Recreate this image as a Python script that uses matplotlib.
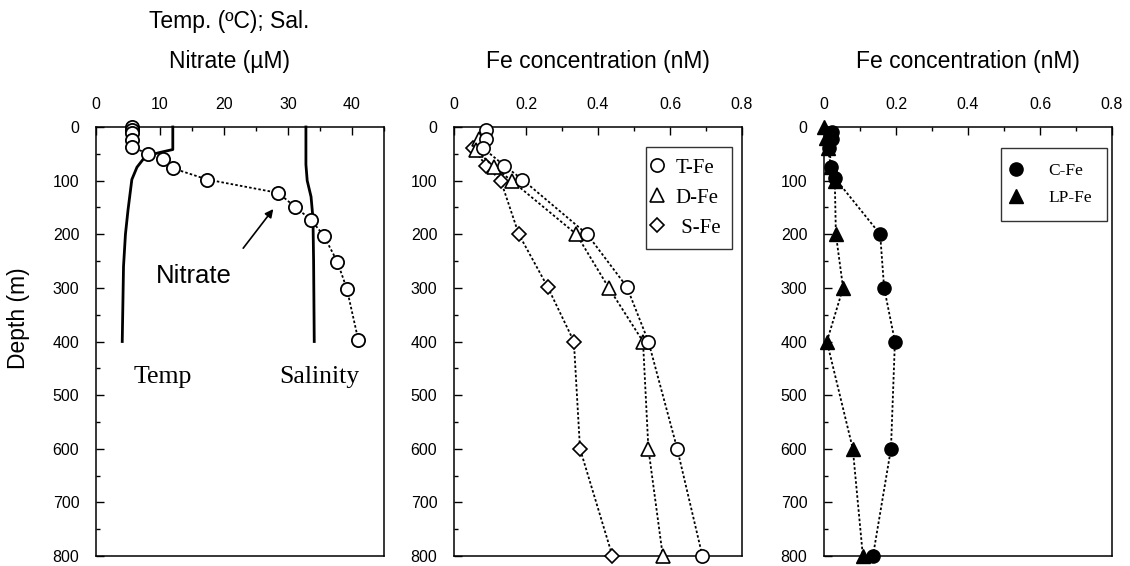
import matplotlib
matplotlib.use('Agg')
import matplotlib.pyplot as plt
from matplotlib.ticker import MultipleLocator

SANS = 'Liberation Sans'
SERIF = 'Liberation Serif'

# panel 1: nitrate (uM) and temp / salinity profiles
nitrate_depth = [0, 5, 12, 24, 37, 50, 60, 77, 98, 123, 149, 173, 203, 251, 302, 398]
nitrate = [5.7, 5.7, 5.7, 5.7, 5.6, 8.1, 10.4, 12.0, 17.4, 28.5, 31.1, 33.6, 35.6, 37.7, 39.2, 41.0]
temp_depth = [0, 42, 48, 55, 75, 98, 155, 200, 260, 400]
temp = [12.0, 12.0, 9.8, 7.7, 6.4, 5.6, 5.0, 4.6, 4.3, 4.1]
sal_depth = [0, 70, 100, 130, 170, 250, 400]
sal = [32.8, 32.8, 33.0, 33.6, 33.9, 34.0, 34.1]

# panel 2: iron fractions (nM)
tfe_depth = [5, 22, 39, 72, 98, 200, 298, 400, 600, 800]
tfe = [0.09, 0.09, 0.08, 0.14, 0.19, 0.37, 0.48, 0.54, 0.62, 0.69]
dfe_depth = [22, 42, 74, 100, 200, 300, 400, 600, 800]
dfe = [0.07, 0.06, 0.11, 0.16, 0.34, 0.43, 0.525, 0.54, 0.58]
sfe_depth = [39, 73, 100, 200, 298, 400, 600, 800]
sfe = [0.053, 0.09, 0.13, 0.18, 0.26, 0.333, 0.35, 0.44]

# panel 3
cfe_depth = [10, 22, 40, 75, 95, 200, 300, 400, 600, 800]
cfe = [0.022, 0.022, 0.015, 0.02, 0.03, 0.156, 0.167, 0.197, 0.186, 0.136]
lpfe_depth = [0, 20, 40, 75, 100, 200, 300, 400, 600, 800]
lpfe = [0.0, 0.005, 0.01, 0.02, 0.03, 0.033, 0.053, 0.008, 0.08, 0.108]

DOT = (0, (1.4, 1.2))

fig = plt.figure(figsize=(11.3, 5.66), dpi=100)
w, h, b = 288 / 1130, 429 / 566, 1 - 556 / 566
ax1 = fig.add_axes([96 / 1130, b, w, h])
ax2 = fig.add_axes([454 / 1130, b, w, h])
ax3 = fig.add_axes([824 / 1130, b, w, h])


def style(ax, xmax, xmaj, xmin):
    ax.set_xlim(0, xmax)
    ax.set_ylim(800, 0)
    ax.xaxis.set_major_locator(MultipleLocator(xmaj))
    ax.xaxis.set_minor_locator(MultipleLocator(xmin))
    ax.yaxis.set_major_locator(MultipleLocator(100))
    ax.yaxis.set_minor_locator(MultipleLocator(50))
    ax.xaxis.tick_top()
    ax.tick_params(which='both', direction='in', top=True, bottom=False,
                   left=True, right=False, width=1.0, color='black')
    ax.tick_params(which='major', length=6)
    ax.tick_params(which='minor', length=3)
    ax.tick_params(axis='x', pad=11, labelsize=11.5)
    ax.tick_params(axis='y', pad=12, labelsize=11.5)
    for lab in ax.get_xticklabels() + ax.get_yticklabels():
        lab.set_family(SANS)
    for sp in ax.spines.values():
        sp.set_linewidth(1.1)


style(ax1, 45, 10, 5)
style(ax2, 0.8, 0.2, 0.1)
style(ax3, 0.8, 0.2, 0.1)
for ax in (ax2, ax3):
    ax.set_xticks([0, 0.2, 0.4, 0.6, 0.8])
    ax.set_xticklabels(['0', '0.2', '0.4', '0.6', '0.8'], family=SANS)

# panel 1
ax1.plot(temp, temp_depth, color='black', lw=2.0, zorder=2)
ax1.plot(sal, sal_depth, color='black', lw=2.0, zorder=2)
ax1.plot(nitrate, nitrate_depth, ls=DOT, color='black', lw=1.3, marker='o',
         ms=9.5, mfc='white', mec='black', mew=1.3, zorder=3)
ax1.annotate('', xy=(27.7, 153), xytext=(23.0, 226),
             arrowprops=dict(arrowstyle='-|>', color='black', lw=1.2,
                             mutation_scale=12, shrinkA=0, shrinkB=0))
ax1.text(9.4, 278, 'Nitrate', family=SANS, fontsize=18.5, va='center', ha='left')
ax1.text(5.9, 466, 'Temp', family=SERIF, fontsize=18.5, va='center', ha='left')
ax1.text(28.7, 466, 'Salinity', family=SERIF, fontsize=18.5, va='center', ha='left')
ax1.text(0.462, 1.245, 'Temp. (ºC); Sal.', transform=ax1.transAxes, family=SANS,
         fontsize=16.5, ha='center', va='center')
ax1.text(0.462, 1.152, 'Nitrate (µM)', transform=ax1.transAxes, family=SANS,
         fontsize=16.5, ha='center', va='center')
ax1.set_ylabel('Depth (m)', family=SANS, fontsize=16.5)
ax1.yaxis.set_label_coords(-0.23, 0.555)

# panel 2
kw = dict(ls=DOT, color='black', lw=1.3, mfc='white', mec='black', mew=1.2)
ax2.plot(tfe, tfe_depth, marker='o', ms=9.5, label='T-Fe', zorder=5, **kw)
ax2.plot(dfe, dfe_depth, marker='^', ms=10, label='D-Fe', zorder=4, **kw)
ax2.plot(sfe, sfe_depth, marker='D', ms=7.5, label=' S-Fe', zorder=3, **kw)
leg2 = ax2.legend(loc='upper right', bbox_to_anchor=(0.965, 0.954), frameon=True,
                  fancybox=False, edgecolor='black', prop={'family': SERIF, 'size': 15},
                  handlelength=0, handletextpad=0.9, labelspacing=0.5,
                  borderpad=0.55, borderaxespad=0)
leg2.get_frame().set_linewidth(1.0)
ax2.text(0.5, 1.152, 'Fe concentration (nM)', transform=ax2.transAxes, family=SANS,
         fontsize=16.5, ha='center', va='center')

# panel 3
kw3 = dict(ls=DOT, color='black', lw=1.3, mfc='black', mec='black')
ax3.plot(cfe, cfe_depth, marker='o', ms=9.5, label='C-Fe', zorder=4, clip_on=False, **kw3)
ax3.plot(lpfe, lpfe_depth, marker='^', ms=10, label='LP-Fe', zorder=3, clip_on=False, **kw3)
leg3 = ax3.legend(loc='upper right', bbox_to_anchor=(0.983, 0.951), frameon=True,
                  fancybox=False, edgecolor='black', prop={'family': SERIF, 'size': 12.5},
                  handlelength=0, handletextpad=1.9, labelspacing=0.65,
                  borderpad=0.85, borderaxespad=0)
leg3.get_frame().set_linewidth(1.0)
ax3.text(0.5, 1.152, 'Fe concentration (nM)', transform=ax3.transAxes, family=SANS,
         fontsize=16.5, ha='center', va='center')

for ax in (ax1, ax2):
    for ln in ax.lines:
        ln.set_clip_on(False)

fig.savefig('out.png', dpi=100)
